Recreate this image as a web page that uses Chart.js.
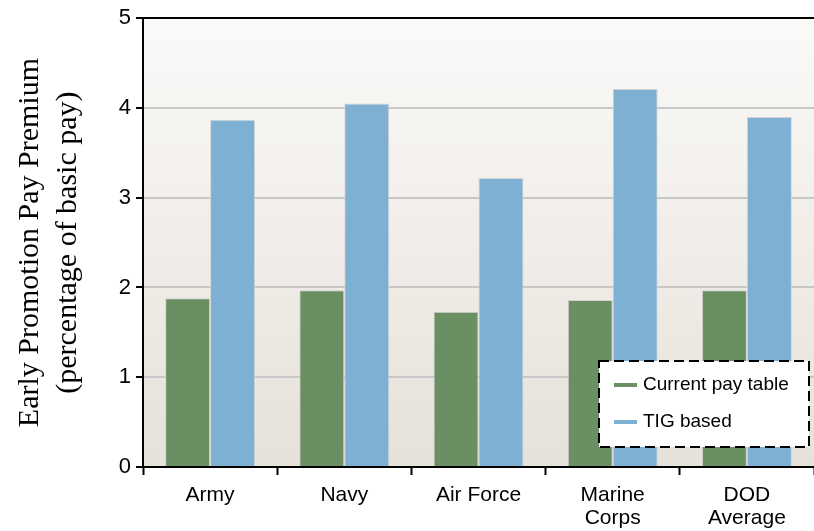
<!DOCTYPE html>
<html><head><meta charset="utf-8">
<script src="https://cdn.jsdelivr.net/npm/chart.js@4/dist/chart.umd.min.js"></script>
<style>html,body{margin:0;padding:0;background:#fff}#wrap{width:814px;height:531px}</style>
</head><body><div id="wrap"><canvas id="c"></canvas></div>
<script>
const categories = [["Army"], ["Navy"], ["Air Force"], ["Marine", "Corps"], ["DOD", "Average"]];
const currentPay = [1.88, 1.97, 1.73, 1.86, 1.97];
const tigBased = [3.87, 4.05, 3.22, 4.21, 3.90];
const seriesNames = ["Current pay table", "TIG based"];
const yTicks = [0, 1, 2, 3, 4, 5];
const yTitle = ["Early Promotion Pay Premium", "(percentage of basic pay)"];

const colors = ["#6a8f62", "#7eb0d4"];

const bgPlugin = {
  id: 'bg',
  beforeDraw(chart) {
    const {ctx, chartArea: a} = chart;
    const g = ctx.createLinearGradient(0, a.top, 0, a.bottom);
    g.addColorStop(0, '#fbfaf9');
    g.addColorStop(1, '#e6e1d9');
    ctx.save();
    ctx.fillStyle = g;
    ctx.fillRect(a.left, a.top, a.right - a.left, a.bottom - a.top);
    ctx.restore();
  }
};

const legendPlugin = {
  id: 'boxLegend',
  afterDraw(chart) {
    const ctx = chart.ctx;
    const x = 599, y = 361, w = 210, h = 86;
    ctx.save();
    ctx.fillStyle = '#ffffff';
    ctx.fillRect(x, y, w, h);
    ctx.setLineDash([10, 5]);
    ctx.strokeStyle = '#000';
    ctx.lineWidth = 2;
    ctx.strokeRect(x, y, w, h);
    ctx.setLineDash([]);
    chart.data.datasets.forEach((ds, i) => {
      const ly = y + 24 + i * 37;
      ctx.strokeStyle = ds.backgroundColor;
      ctx.lineWidth = 4;
      ctx.beginPath();
      ctx.moveTo(614, ly);
      ctx.lineTo(637, ly);
      ctx.stroke();
      ctx.fillStyle = '#000';
      ctx.font = '19px "Liberation Sans", Arial, sans-serif';
      ctx.textBaseline = 'middle';
      ctx.fillText(ds.label, 643, ly);
    });
    ctx.restore();
  }
};

new Chart(document.getElementById('c'), {
  type: 'bar',
  data: {
    labels: categories,
    datasets: [
      {label: seriesNames[0], data: currentPay, backgroundColor: colors[0], borderColor: '#d2d2d2', borderWidth: 1, borderSkipped: 'bottom'},
      {label: seriesNames[1], data: tigBased, backgroundColor: colors[1], borderColor: '#d2d2d2', borderWidth: 1, borderSkipped: 'bottom'}
    ]
  },
  options: {
    responsive: true,
    maintainAspectRatio: false,
    animation: false,
    layout: {padding: {top: 17, right: 0, left: 0, bottom: 0}},
    plugins: {legend: {display: false}, tooltip: {enabled: false}},
    datasets: {bar: {barPercentage: 1.0, categoryPercentage: 0.67}},
    scales: {
      x: {
        offset: true,
        grid: {offset: true, drawOnChartArea: false, drawTicks: true, tickLength: 8, tickColor: '#000', tickWidth: 2},
        border: {color: '#000', width: 2},
        ticks: {color: '#000', font: {family: '"Liberation Sans", Arial, sans-serif', size: 21, lineHeight: 1.1}, padding: 9, maxRotation: 0, autoSkip: false},
        afterFit(s) { s.height = 64; }
      },
      y: {
        min: 0, max: 5,
        afterBuildTicks(s) { s.ticks = yTicks.map(v => ({value: v})); },
        grid: {
          color: c => (c.tick && c.tick.value === 5) ? '#000' : '#c8c8c8',
          lineWidth: 2,
          drawTicks: true, tickLength: 7, tickColor: '#000', tickWidth: 2
        },
        border: {color: '#000', width: 2},
        ticks: {color: '#000', font: {family: '"Liberation Sans", Arial, sans-serif', size: 22}, padding: 5},
        title: {
          display: true,
          text: yTitle,
          color: '#000',
          font: {family: '"Liberation Serif", "Times New Roman", serif', size: 30, lineHeight: 1.27},
          padding: {top: 11, bottom: 0}
        },
        afterFit(s) { s.width = 143; }
      }
    }
  },
  plugins: [bgPlugin, legendPlugin]
});
</script>
</body></html>
